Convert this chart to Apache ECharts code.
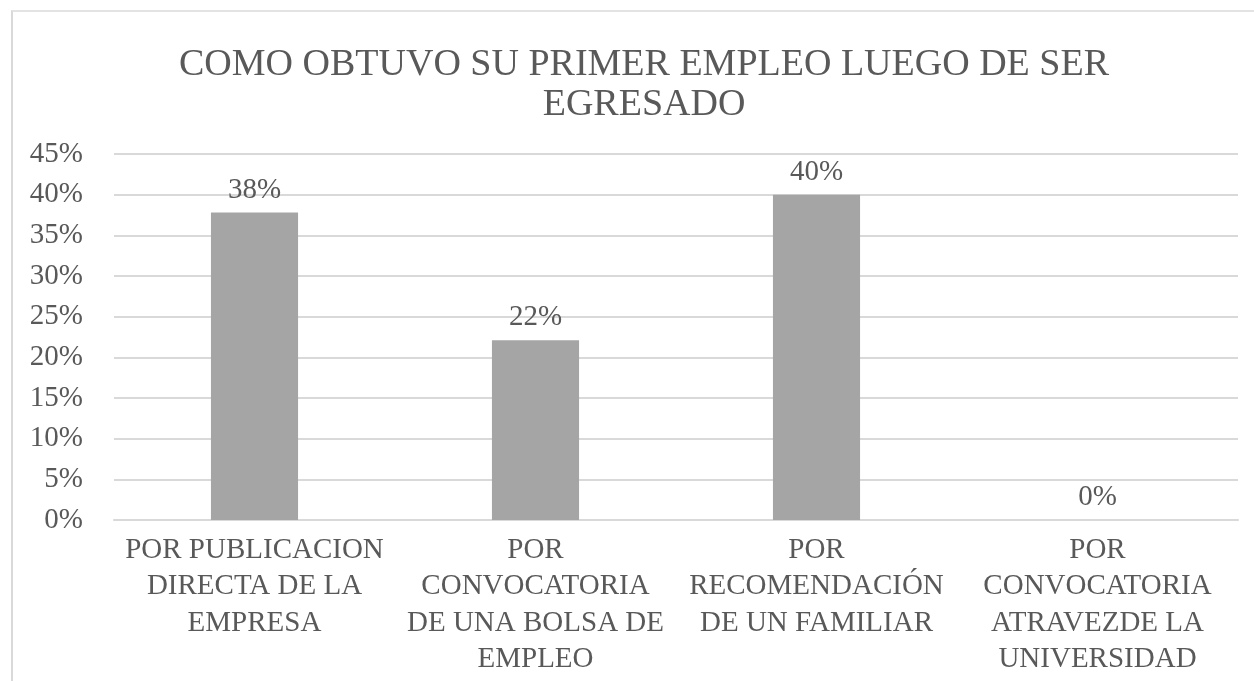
<!DOCTYPE html>
<html>
<head>
<meta charset="utf-8">
<script src="https://cdn.jsdelivr.net/npm/echarts@6/dist/echarts.min.js"></script>
<style>
html,body{margin:0;padding:0;background:#fff;}
#frame{position:absolute;left:11px;top:10px;width:1243px;height:671px;border-left:2px solid #d9d9d9;border-top:2px solid #e3e3e3;box-sizing:border-box;}
#chart{position:absolute;left:0;top:0;width:1254px;height:681px;}
</style>
</head>
<body>
<div id="frame"></div>
<div id="chart"></div>
<script>
const titleText = 'COMO OBTUVO SU PRIMER EMPLEO LUEGO DE SER\nEGRESADO';
const categories = [
  'POR PUBLICACION DIRECTA DE LA EMPRESA',
  'POR CONVOCATORIA DE UNA BOLSA DE EMPLEO',
  'POR RECOMENDACIÓN DE UN FAMILIAR',
  'POR CONVOCATORIA ATRAVEZDE LA UNIVERSIDAD'
];
const categoryLabels = [
  'POR PUBLICACION\nDIRECTA DE LA\nEMPRESA',
  'POR\nCONVOCATORIA\nDE UNA BOLSA DE\nEMPLEO',
  'POR\nRECOMENDACIÓN\nDE UN FAMILIAR',
  'POR\nCONVOCATORIA\nATRAVEZDE LA\nUNIVERSIDAD'
];
const values = [0.378, 0.221, 0.40, 0];
const yTicks = [0, 0.05, 0.10, 0.15, 0.20, 0.25, 0.30, 0.35, 0.40, 0.45];

const font = '"Liberation Serif", "Times New Roman", serif';
const chart = echarts.init(document.getElementById('chart'));
chart.setOption({
  animation: false,
  backgroundColor: 'transparent',
  title: {
    text: titleText,
    left: 639, top: 40,
    textAlign: 'center',
    textStyle: {fontFamily: font, fontSize: 38, fontWeight: 'normal', color: '#595959', lineHeight: 40}
  },
  grid: {left: 114, right: 16, top: 154, bottom: 161},
  xAxis: {
    type: 'category',
    data: categories,
    axisLine: {show: true, lineStyle: {color: '#d9d9d9', width: 2}},
    axisTick: {show: false},
    axisLabel: {
      interval: 0,
      margin: 12,
      fontFamily: font, fontSize: 29, color: '#595959', lineHeight: 36.5,
      formatter: function (v, i) { return categoryLabels[i]; }
    }
  },
  yAxis: {
    type: 'value',
    min: yTicks[0], max: yTicks[yTicks.length - 1], interval: 0.05,
    axisLine: {show: false},
    axisTick: {show: false},
    splitLine: {lineStyle: {color: '#d9d9d9', width: 2}},
    axisLabel: {
      margin: 31,
      fontFamily: font, fontSize: 29, color: '#595959',
      formatter: function (v) { return Math.round(v * 100) + '%'; }
    }
  },
  series: [{
    type: 'bar',
    data: values,
    barWidth: '31%',
    itemStyle: {color: '#a5a5a5'},
    label: {
      show: true, position: 'top', distance: 8,
      fontFamily: font, fontSize: 29, color: '#595959',
      formatter: function (p) { return Math.round(p.value * 100) + '%'; }
    }
  }]
});
</script>
</body>
</html>
